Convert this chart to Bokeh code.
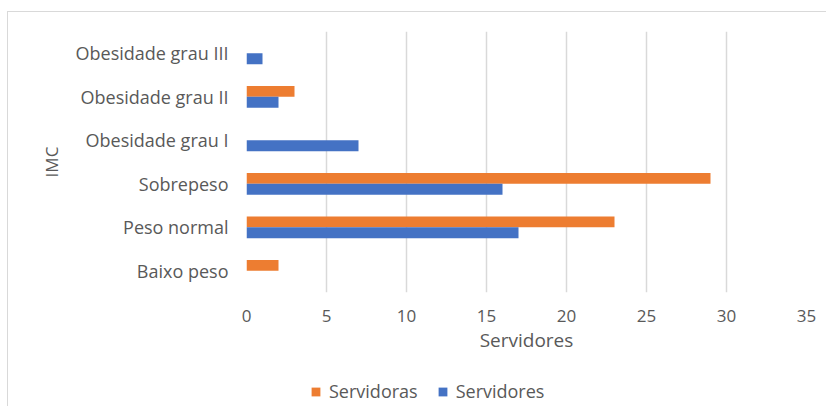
from bokeh.plotting import figure
from bokeh.layouts import column
from bokeh.models import FactorRange, Range1d, ColumnDataSource, Legend, LegendItem
from bokeh.transform import dodge
from bokeh.embed import file_html
from bokeh.resources import INLINE

categories = ["Baixo peso", "Peso normal", "Sobrepeso", "Obesidade grau I",
              "Obesidade grau II", "Obesidade grau III"]
servidoras = [2, 23, 29, 0, 3, 0]
servidores = [0, 17, 16, 7, 2, 1]
series_names = ["Servidoras", "Servidores"]
x_ticks = [0, 5, 10, 15, 20, 25, 30, 35]

ORANGE = "#ED7D31"
BLUE = "#4472C4"
TEXT = "#595959"
FONT = "Open Sans"

src = ColumnDataSource(dict(cat=categories, f=servidoras, m=servidores))

p = figure(y_range=FactorRange(*categories), x_range=Range1d(0, 35),
           frame_width=560, frame_height=261,
           min_border_left=238, min_border_right=20, min_border_top=19, min_border_bottom=70,
           output_backend="svg", toolbar_location=None)

p.hbar(y=dodge("cat", 0.125, range=p.y_range), right="f", height=0.25, source=src,
       fill_color=ORANGE, line_color=None)
p.hbar(y=dodge("cat", -0.125, range=p.y_range), right="m", height=0.25, source=src,
       fill_color=BLUE, line_color=None)

p.outline_line_color = None
p.ygrid.grid_line_color = None
p.xgrid.grid_line_color = "#D9D9D9"
p.xgrid.grid_line_width = 1.5
p.xaxis.ticker = x_ticks

for ax in (p.xaxis[0], p.yaxis[0]):
    ax.axis_line_color = None
    ax.major_tick_line_color = None
    ax.minor_tick_line_color = None
    ax.major_tick_out = 0
    ax.major_label_text_color = TEXT
    ax.major_label_text_font = FONT
    ax.axis_label_text_color = TEXT
    ax.axis_label_text_font = FONT
    ax.axis_label_text_font_style = "normal"

p.yaxis.major_label_text_font_size = "18px"
p.xaxis.major_label_text_font_size = "17px"
p.xaxis.axis_label_text_font_size = "19px"
p.yaxis.axis_label_text_font_size = "17px"

p.xaxis.axis_label = "Servidores"
p.yaxis.axis_label = "IMC"
p.xaxis.major_label_standoff = 17
p.xaxis.axis_label_standoff = 2
p.yaxis.major_label_standoff = 18
p.yaxis.axis_label_standoff = 10

# legend strip below the chart (its series renderers draw nothing visible there)
lp = figure(y_range=FactorRange(*categories), x_range=Range1d(-2, -1),
            frame_width=560, frame_height=44,
            min_border_left=238, min_border_right=20, min_border_top=0, min_border_bottom=0,
            x_axis_location=None, y_axis_location=None,
            output_backend="svg", toolbar_location=None)
lp.outline_line_color = None
lp.xgrid.visible = False
lp.ygrid.visible = False
k1 = lp.hbar(y="cat", left=0, right="f", height=0, source=src, fill_color=ORANGE, line_color=None)
k2 = lp.hbar(y="cat", left=0, right="m", height=0, source=src, fill_color=BLUE, line_color=None)

legend = Legend(items=[LegendItem(label=series_names[0], renderers=[k1]),
                       LegendItem(label=series_names[1], renderers=[k2])],
                orientation="horizontal", location=(64, 3),
                padding=4, margin=0, spacing=19, label_standoff=8,
                glyph_width=11, glyph_height=11, label_height=18,
                label_text_font=FONT, label_text_font_size="18px", label_text_color=TEXT,
                border_line_color=None, background_fill_alpha=0)
lp.add_layout(legend, "center")

layout = column(p, lp, spacing=0, margin=(11, 0, 0, 7),
                styles={"border-top": "1px solid #D9D9D9", "border-left": "1px solid #D9D9D9"})

open("out.html", "w").write(file_html(layout, INLINE))
